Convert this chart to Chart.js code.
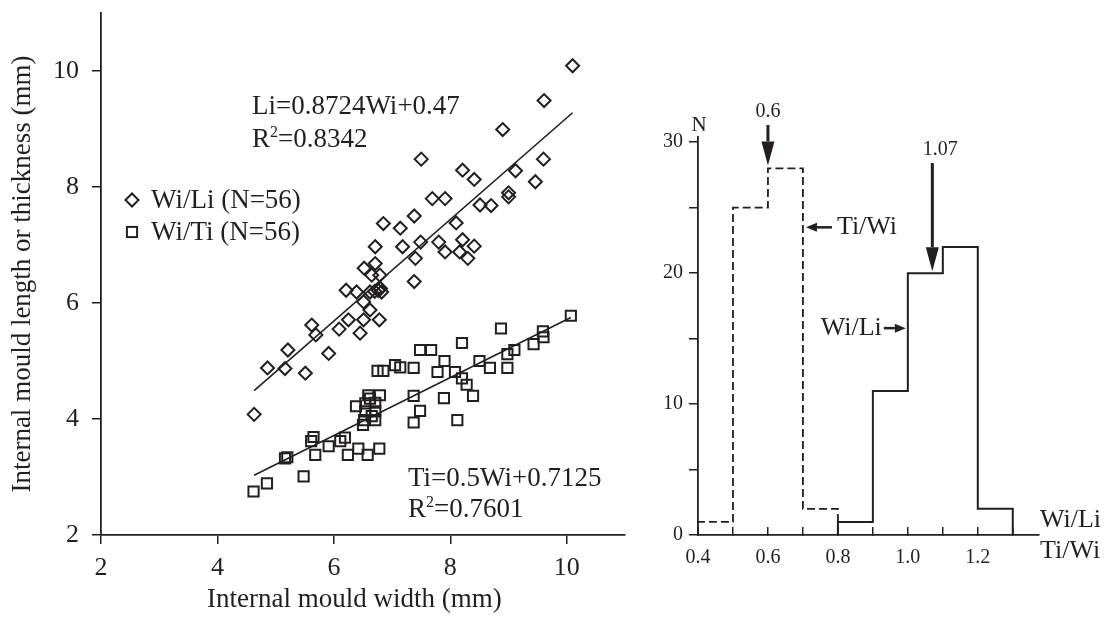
<!DOCTYPE html>
<html><head><meta charset="utf-8">
<script src="https://cdn.jsdelivr.net/npm/chart.js@4.4.1/dist/chart.umd.min.js"></script>
<style>
html,body{margin:0;padding:0;background:#fff;width:1104px;height:630px;overflow:hidden}
#c1{position:absolute;left:0;top:0}
#c2{position:absolute;left:640px;top:0}
</style></head><body>
<canvas id="c1" width="640" height="630"></canvas>
<canvas id="c2" width="464" height="630"></canvas>
<script>
// ---------- data: scatter ----------
const wiLiWidth  = [4.63,4.86,5.16,5.21,5.51,5.62,5.69,5.91,6.09,6.21,6.25,6.39,6.45,6.51,6.51,6.52,6.62,6.62,6.65,6.70,6.71,6.71,6.76,6.78,6.79,6.80,6.82,6.85,7.14,7.18,7.38,7.38,7.40,7.49,7.50,7.69,7.80,7.91,7.91,8.10,8.16,8.21,8.21,8.30,8.41,8.41,8.51,8.70,8.90,9.00,9.00,9.12,9.46,9.60,9.61,10.10];
const wiLiLength = [4.08,4.88,4.87,5.19,4.79,5.62,5.45,5.13,5.55,6.22,5.71,6.19,5.48,5.71,6.02,6.60,5.88,6.19,6.48,6.20,6.68,6.97,6.22,5.71,6.48,6.25,6.19,7.37,7.29,6.97,6.37,7.50,6.77,7.05,8.48,7.80,7.05,6.88,7.80,7.38,6.88,7.09,8.29,6.77,6.98,8.13,7.69,7.68,8.99,7.83,7.90,8.28,8.09,8.48,9.49,10.09];
const wiTiWidth     = [10.07,8.87,9.59,9.60,8.20,9.43,7.48,7.67,9.10,8.98,7.90,8.50,7.14,7.37,8.68,8.98,7.78,8.08,8.20,8.28,8.39,7.37,7.89,7.48,7.37,8.12,6.75,6.85,7.05,6.59,6.79,6.38,6.54,6.71,6.54,6.71,6.52,6.71,6.50,5.16,5.20,4.62,4.85,5.48,5.65,5.61,5.68,5.91,6.11,6.19,6.24,6.42,6.58,6.78,6.62,6.65];
const wiTiThickness = [5.78,5.56,5.51,5.41,5.31,5.29,5.19,5.19,5.19,5.12,5.00,5.00,4.89,4.88,4.88,4.88,4.81,4.81,4.70,4.59,4.40,4.40,4.36,4.14,3.94,3.98,4.83,4.83,4.93,4.41,4.41,4.22,4.27,4.28,4.13,4.13,3.98,3.98,3.90,3.32,3.34,2.75,2.89,3.01,3.69,3.62,3.38,3.53,3.62,3.68,3.38,3.49,3.38,3.49,4.35,4.05];
const liFitX = [4.63, 10.10], liFitY = [4.49, 9.28];
const tiFitX = [4.63, 10.07], tiFitY = [3.03, 5.75];
const scatterTicks = [2, 4, 6, 8, 10];
const scatterRange = [2, 11];

// ---------- data: histogram ----------
const tiWiEdges  = [0.4, 0.5, 0.6, 0.7, 0.8];
const tiWiCounts = [1, 25, 28, 2];
const wiLiEdges  = [0.8, 0.9, 1.0, 1.1, 1.2, 1.3];
const wiLiCounts = [1, 11, 20, 22, 2];
const histXTicks = [0.4, 0.5, 0.6, 0.7, 0.8, 0.9, 1.0, 1.1, 1.2, 1.3];
const histXLabels = ['0.4', '', '0.6', '', '0.8', '', '1.0', '', '1.2', ''];
const histYTicks = [0, 5, 10, 15, 20, 25, 30];
const histYLabels = ['0', '', '10', '', '20', '', '30'];
const histXRange = [0.4, 1.375], histYRange = [0, 30.4];
const modeTiWi = 0.6, modeWiLi = 1.07;

const FONT = '"Liberation Serif", "Times New Roman", serif';
const INK = '#231f20';
const BIG = '27px ' + FONT;

function zipXY(xs, ys) { return xs.map((x, i) => ({x, y: ys[i]})); }
function outline(edges, counts) {
  const pts = [{x: edges[0], y: 0}];
  counts.forEach((c, i) => pts.push({x: edges[i], y: c}));
  pts.push({x: edges[edges.length - 1], y: 0});
  return pts;
}
function noPad(s) { s.paddingTop = 0; s.paddingBottom = 0; s.paddingLeft = 0; s.paddingRight = 0; }

// ---------- left chart ----------
function drawDiamond(ctx, x, y, r) {
  ctx.beginPath(); ctx.moveTo(x, y - r); ctx.lineTo(x + r, y); ctx.lineTo(x, y + r); ctx.lineTo(x - r, y); ctx.closePath(); ctx.stroke();
}
function drawSquare(ctx, x, y, r) {
  const s = r * Math.SQRT1_2; ctx.strokeRect(x - s, y - s, 2 * s, 2 * s);
}
function drawR2(ctx, x, y, value) {
  ctx.font = BIG; ctx.fillText('R', x, y);
  let w = ctx.measureText('R').width;
  ctx.font = '16px ' + FONT; ctx.fillText('2', x + w, y - 10);
  w += ctx.measureText('2').width;
  ctx.font = BIG; ctx.fillText('=' + value, x + w, y);
}
const leftAnn = {
  id: 'leftAnn',
  afterDraw(chart) {
    const ctx = chart.ctx; ctx.save();
    ctx.fillStyle = INK; ctx.strokeStyle = INK; ctx.textBaseline = 'alphabetic'; ctx.textAlign = 'left';
    ctx.font = BIG;
    ctx.fillText('Li=0.8724Wi+0.47', 252, 114);
    drawR2(ctx, 252, 147, '0.8342');
    ctx.font = BIG;
    ctx.fillText('Ti=0.5Wi+0.7125', 408, 486);
    drawR2(ctx, 408, 517, '0.7601');
    ctx.lineWidth = 2;
    drawDiamond(ctx, 132, 200, 6.5);
    drawSquare(ctx, 132, 232, 7.2);
    ctx.font = BIG;
    ctx.fillText('Wi/Li (N=56)', 151, 208);
    ctx.fillText('Wi/Ti (N=56)', 151, 240);
    // x-axis title
    ctx.textBaseline = 'middle';
    ctx.fillText('Internal mould width (mm)', 207, 600);
    ctx.restore();
  }
};
const axisCommon = (labels, size, pad, tl) => ({
  border: {display: true, color: INK, width: 1.8},
  grid: {display: true, drawOnChartArea: false, drawTicks: true, tickLength: tl, color: INK, lineWidth: 1.5},
  ticks: {color: INK, font: {family: FONT, size: size, lineHeight: 1.2}, padding: pad, autoSkip: false, maxRotation: 0,
    callback: (v, i) => labels ? labels[i] : String(v)}
});

const sx = axisCommon(null, 26, 9, 9);
const sy = axisCommon(null, 26, 13, 9);
new Chart(document.getElementById('c1'), {
  type: 'scatter',
  data: {datasets: [
    {label: 'Wi/Li (N=56)', data: zipXY(wiLiWidth, wiLiLength), pointStyle: 'rectRot', pointRadius: 6.5, pointBorderWidth: 2, borderColor: INK, backgroundColor: 'rgba(0,0,0,0)'},
    {label: 'Wi/Ti (N=56)', data: zipXY(wiTiWidth, wiTiThickness), pointStyle: 'rect', pointRadius: 7.2, pointBorderWidth: 2, borderColor: INK, backgroundColor: 'rgba(0,0,0,0)'},
    {label: 'Li fit', data: zipXY(liFitX, liFitY), showLine: true, pointRadius: 0, borderColor: INK, borderWidth: 1.6},
    {label: 'Ti fit', data: zipXY(tiFitX, tiFitY), showLine: true, pointRadius: 0, borderColor: INK, borderWidth: 1.6}
  ]},
  options: {
    responsive: false, animation: false, devicePixelRatio: 1,
    layout: {padding: {top: 13, right: 15, left: 0, bottom: 0}},
    plugins: {legend: {display: false}, tooltip: {enabled: false}},
    scales: {
      x: Object.assign(sx, {type: 'linear', min: scatterRange[0], max: scatterRange[1],
        afterBuildTicks: s => { s.ticks = scatterTicks.map(v => ({value: v})); },
        afterFit: s => { s.height = 95; noPad(s); }}),
      y: Object.assign(sy, {type: 'linear', min: scatterRange[0], max: scatterRange[1],
        afterBuildTicks: s => { s.ticks = scatterTicks.map(v => ({value: v})); },
        afterFit: s => { s.width = 101; noPad(s); },
        title: {display: true, text: 'Internal mould length or thickness (mm)', color: INK, font: {family: FONT, size: 27, lineHeight: 1.2}, padding: {top: 7, bottom: 0}}})
    }
  },
  plugins: [leftAnn]
});

// ---------- right chart ----------
function arrow(ctx, x1, y1, x2, y2, stem, headLen, headW) {
  const a = Math.atan2(y2 - y1, x2 - x1);
  const bx = x2 - Math.cos(a) * headLen, by = y2 - Math.sin(a) * headLen;
  ctx.lineWidth = stem; ctx.beginPath(); ctx.moveTo(x1, y1); ctx.lineTo(bx, by); ctx.stroke();
  const px = -Math.sin(a) * headW / 2, py = Math.cos(a) * headW / 2;
  ctx.beginPath(); ctx.moveTo(x2, y2); ctx.lineTo(bx + px, by + py); ctx.lineTo(bx - px, by - py); ctx.closePath(); ctx.fill();
}
const rightAnn = {
  id: 'rightAnn',
  afterDraw(chart) {
    const ctx = chart.ctx, X = chart.scales.x, Y = chart.scales.y;
    ctx.save(); ctx.fillStyle = INK; ctx.strokeStyle = INK;
    ctx.textBaseline = 'middle'; ctx.textAlign = 'center';
    ctx.font = '21px ' + FONT;
    ctx.fillText('N', X.left + 1, 125);
    const m1 = X.getPixelForValue(modeTiWi);
    ctx.font = '20px ' + FONT; ctx.fillText('0.6', m1, 112);
    arrow(ctx, m1, 125, m1, Y.getPixelForValue(28) - 3, 3, 24, 13);
    const m2 = X.getPixelForValue(modeWiLi);
    ctx.fillText('1.07', m2 + 8, 150);
    arrow(ctx, m2, 163, m2, Y.getPixelForValue(20) - 2, 3, 24, 13);
    const yT = Y.getPixelForValue(23.5), x07 = X.getPixelForValue(0.7);
    arrow(ctx, x07 + 29, yT, x07 + 3, yT, 2.5, 11, 9);
    ctx.font = '26px ' + FONT; ctx.textAlign = 'left';
    ctx.fillText('Ti/Wi', x07 + 34, yT);
    const yL = Y.getPixelForValue(15.8), x10 = X.getPixelForValue(1.0);
    ctx.textAlign = 'right'; ctx.fillText('Wi/Li', x10 - 26, yL);
    arrow(ctx, x10 - 24, yL, x10 - 2, yL, 2.5, 11, 9);
    ctx.textAlign = 'left';
    ctx.fillText('Wi/Li', X.right + 1, 520);
    ctx.fillText('Ti/Wi', X.right + 1, 551);
    ctx.restore();
  }
};
const hx = axisCommon(histXLabels, 20, 19, -8);
const hy = axisCommon(histYLabels, 20, 6, 9);
new Chart(document.getElementById('c2'), {
  type: 'line',
  data: {datasets: [
    {label: 'Ti/Wi', data: outline(tiWiEdges, tiWiCounts), stepped: 'before', pointRadius: 0, borderColor: INK, borderWidth: 1.8, borderDash: [8, 4], fill: false},
    {label: 'Wi/Li', data: outline(wiLiEdges, wiLiCounts), stepped: 'before', pointRadius: 0, borderColor: INK, borderWidth: 2, fill: false}
  ]},
  options: {
    responsive: false, animation: false, devicePixelRatio: 1,
    layout: {padding: {top: 137, right: 65, left: 0, bottom: 0}},
    plugins: {legend: {display: false}, tooltip: {enabled: false}},
    scales: {
      x: Object.assign(hx, {type: 'linear', min: histXRange[0], max: histXRange[1],
        afterBuildTicks: s => { s.ticks = histXTicks.map(v => ({value: v})); },
        afterFit: s => { s.height = 95; noPad(s); }}),
      y: Object.assign(hy, {type: 'linear', min: histYRange[0], max: histYRange[1],
        afterBuildTicks: s => { s.ticks = histYTicks.map(v => ({value: v})); },
        afterFit: s => { s.width = 58; noPad(s); }})
    }
  },
  plugins: [rightAnn]
});
</script>
</body></html>
